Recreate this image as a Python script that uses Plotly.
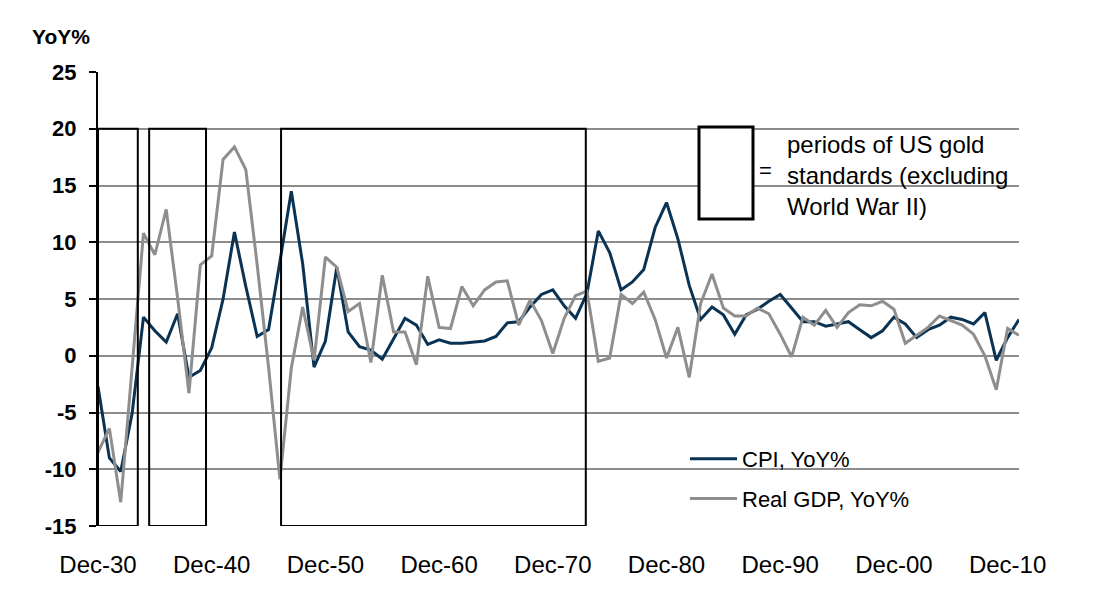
import plotly.graph_objects as go

years = list(range(1930, 2012))

cpi_yoy = [
    -2.7, -9.0, -10.2, -5.1, 3.4, 2.2, 1.2, 3.7, -1.9, -1.3,
    0.7, 5.0, 10.9, 6.1, 1.7, 2.3, 8.3, 14.5, 8.1, -1.0,
    1.3, 7.8, 2.1, 0.8, 0.5, -0.3, 1.5, 3.3, 2.7, 1.0,
    1.4, 1.1, 1.1, 1.2, 1.3, 1.7, 2.9, 3.0, 4.3, 5.4,
    5.8, 4.4, 3.3, 5.5, 11.0, 9.1, 5.8, 6.5, 7.6, 11.3,
    13.5, 10.3, 6.2, 3.2, 4.3, 3.6, 1.9, 3.6, 4.1, 4.8,
    5.4, 4.2, 3.0, 3.0, 2.6, 2.8, 3.0, 2.3, 1.6, 2.2,
    3.4, 2.8, 1.6, 2.3, 2.7, 3.4, 3.2, 2.8, 3.8, -0.4,
    1.6, 3.2,
]

gdp_yoy = [
    -8.5, -6.4, -12.9, -1.2, 10.8, 8.9, 12.9, 5.1, -3.3, 8.0,
    8.8, 17.3, 18.4, 16.4, 8.0, -1.0, -10.9, -1.1, 4.3, -0.4,
    8.7, 7.8, 3.9, 4.6, -0.6, 7.1, 2.1, 2.1, -0.8, 7.0,
    2.5, 2.4, 6.1, 4.4, 5.8, 6.5, 6.6, 2.7, 4.9, 3.1,
    0.2, 3.3, 5.3, 5.7, -0.5, -0.2, 5.4, 4.6, 5.6, 3.2,
    -0.2, 2.5, -1.9, 4.6, 7.2, 4.2, 3.5, 3.5, 4.2, 3.7,
    1.9, -0.1, 3.4, 2.7, 4.0, 2.5, 3.8, 4.5, 4.4, 4.8,
    4.1, 1.1, 1.8, 2.5, 3.5, 3.1, 2.7, 1.9, 0.0, -3.0,
    2.4, 1.8,
]

# periods of US gold standards (start, end) in years
gold_periods = [(1930.0, 1933.5), (1934.5, 1939.5), (1946.1, 1972.9)]
gold_box_top = 20
gold_box_bottom = -15

tick_years = [1930, 1940, 1950, 1960, 1970, 1980, 1990, 2000, 2010]
tick_text = ["Dec-30", "Dec-40", "Dec-50", "Dec-60", "Dec-70",
             "Dec-80", "Dec-90", "Dec-00", "Dec-10"]
y_ticks = [-15, -10, -5, 0, 5, 10, 15, 20, 25]
y_tick_text = ["-15", "-10", "-5", "0", "5", "10", "15", "20", "25"]

# page is shown with the default 8px body margin, so positions are shifted
OFF = 8
W, H = 1100, 603
PL, PR, PT, PB = 98, 1019, 72, 526          # plot area on the page (px)
ML, MT = PL - OFF, PT - OFF
MR = W - (PR - OFF)
MB = H - (PB - OFF)
PW = PR - PL
PH = PB - PT


def px_x(p):
    return (p - PL) / PW


def px_y(p):
    return (PB - p) / PH


FONT = "Liberation Sans, Arial, sans-serif"
CPI_COLOR = "#0a3252"
GDP_COLOR = "#8e8e8e"
GRID_COLOR = "#8c8c8c"

fig = go.Figure()
fig.add_trace(go.Scatter(x=years, y=cpi_yoy, mode="lines", name="CPI, YoY%",
                         line=dict(color=CPI_COLOR, width=3), legendgroup="a"))
fig.add_trace(go.Scatter(x=years, y=gdp_yoy, mode="lines", name="Real GDP, YoY%",
                         line=dict(color=GDP_COLOR, width=3), legendgroup="b"))

shapes = []
for (s, e) in gold_periods:
    shapes.append(dict(type="rect", xref="x", yref="y", x0=s, x1=e,
                       y0=gold_box_bottom, y1=gold_box_top,
                       line=dict(color="black", width=2), fillcolor="rgba(0,0,0,0)",
                       layer="above"))
# white panel behind the note text
shapes.append(dict(type="rect", xref="paper", yref="paper",
                   x0=px_x(778), x1=1.0, y0=px_y(222), y1=px_y(124),
                   line=dict(width=0), fillcolor="white", layer="between"))
# white panel behind the legend
shapes.append(dict(type="rect", xref="paper", yref="paper",
                   x0=px_x(617), x1=px_x(985), y0=px_y(520), y1=px_y(428),
                   line=dict(width=0), fillcolor="white", layer="between"))
# key rectangle
shapes.append(dict(type="rect", xref="paper", yref="paper",
                   x0=px_x(699), x1=px_x(753), y0=px_y(219), y1=px_y(127),
                   line=dict(color="black", width=3), fillcolor="white", layer="above"))

annotations = [
    dict(text="<b>YoY%</b>", xref="paper", yref="paper", x=px_x(61), y=px_y(37),
         showarrow=False, font=dict(family=FONT, size=21, color="black"),
         xanchor="center", yanchor="middle"),
    dict(text="=", xref="paper", yref="paper", x=px_x(765), y=px_y(170),
         showarrow=False, font=dict(family=FONT, size=22, color="black"),
         xanchor="center", yanchor="middle"),
    dict(text="periods of US gold<br>standards (excluding<br>World War II)",
         xref="paper", yref="paper", x=px_x(785), y=px_y(175), align="left",
         showarrow=False, font=dict(family=FONT, size=24, color="black"),
         xanchor="left", yanchor="middle"),
]

fig.update_layout(
    width=W, height=H,
    margin=dict(l=ML, r=MR, t=MT, b=MB, autoexpand=False),
    paper_bgcolor="white", plot_bgcolor="white",
    showlegend=True,
    legend=dict(x=px_x(685), y=px_y(438), xanchor="left", yanchor="top",
                bgcolor="rgba(0,0,0,0)", font=dict(family=FONT, size=22, color="black"),
                tracegroupgap=8, itemwidth=47),
    shapes=shapes,
    annotations=annotations,
    xaxis=dict(range=[1930, 2011], tickvals=tick_years, ticktext=tick_text,
               showgrid=False, showline=False, zeroline=False, ticks="",
               automargin=False, ticklabelstandoff=22,
               tickfont=dict(family=FONT, size=24, color="black")),
    xaxis2=dict(range=[1930, 2011], overlaying="x", anchor="free",
                position=15 / 40, matches="x", tickvals=tick_years,
                showticklabels=False, showgrid=False, zeroline=False,
                showline=True, linecolor="black", linewidth=2, automargin=False,
                ticks="outside", ticklen=7, tickwidth=2, tickcolor="black"),
    yaxis=dict(range=[-15, 25], tickvals=y_ticks, ticktext=y_tick_text,
               showgrid=True, automargin=False,
               gridcolor=GRID_COLOR, gridwidth=1.5, zeroline=False,
               showline=True, linecolor="black", linewidth=2,
               ticks="outside", ticklen=7, tickwidth=2, tickcolor="black",
               ticklabelstandoff=8,
               tickfont=dict(family=FONT, size=22, color="black", weight="bold")),
)

fig.write_html("out.html")
